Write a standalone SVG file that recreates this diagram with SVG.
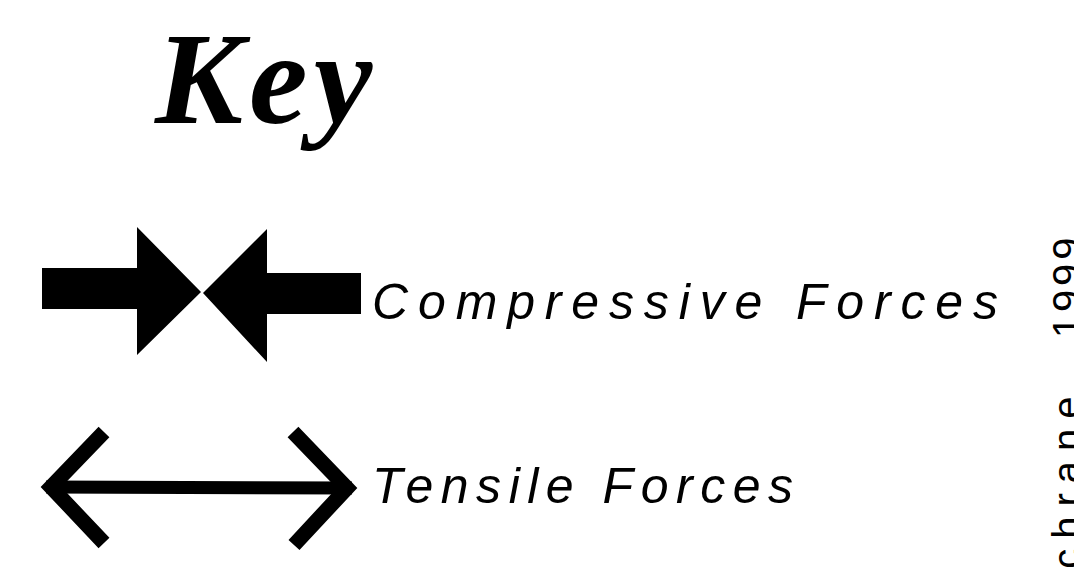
<svg xmlns="http://www.w3.org/2000/svg" width="1074" height="567" viewBox="0 0 1074 567">
  <style>
    .title { font-family: "Liberation Serif", "Times New Roman", serif; font-weight: bold; font-style: italic; fill: #000; }
    .label { font-family: "Liberation Sans", Arial, sans-serif; font-style: italic; fill: #000; }
    .credit { font-family: "Liberation Sans", Arial, sans-serif; fill: #000; }
    .solid { fill: #000; stroke: none; }
    .line { fill: none; stroke: #000; stroke-width: 15; stroke-linejoin: miter; stroke-miterlimit: 10; }
  </style>
  <rect width="1074" height="567" fill="#fff"/>

  <!-- heading -->
  <g id="title">
    <text class="title" x="155" y="123" font-size="132" letter-spacing="6">Key</text>
  </g>

  <!-- compressive symbol: two solid arrows pointing at each other -->
  <g id="compressive-symbol">
    <polygon class="solid" points="42,268 137,268 137,227 201,292 137,355 137,309 42,309"/>
    <polygon class="solid" points="361,273 267,273 267,229 203,293 267,362 267,314 361,314"/>
  </g>
  <g id="compressive-label">
    <text class="label" x="372" y="319" font-size="50" textLength="626" lengthAdjust="spacing">Compressive Forces</text>
  </g>

  <!-- tensile symbol: double-headed open arrow -->
  <g id="tensile-symbol">
    <line x1="46" y1="487" x2="352" y2="488" stroke="#000" stroke-width="13"/>
    <polyline class="line" points="104,432 51,487 104,543"/>
    <polyline class="line" points="293,432 347,488 294,545"/>
  </g>
  <g id="tensile-label">
    <text class="label" x="372" y="503" font-size="50" textLength="421" lengthAdjust="spacing">Tensile Forces</text>
  </g>

  <!-- source credit running up the right edge, clipped by the page -->
  <g id="credit" transform="translate(1081,0) rotate(-90)">
    <text class="credit" x="-338" y="0" font-size="40" letter-spacing="3.8">1999</text>
    <text class="credit" x="-640" y="0" font-size="40" letter-spacing="10">Cochrane</text>
  </g>
</svg>
